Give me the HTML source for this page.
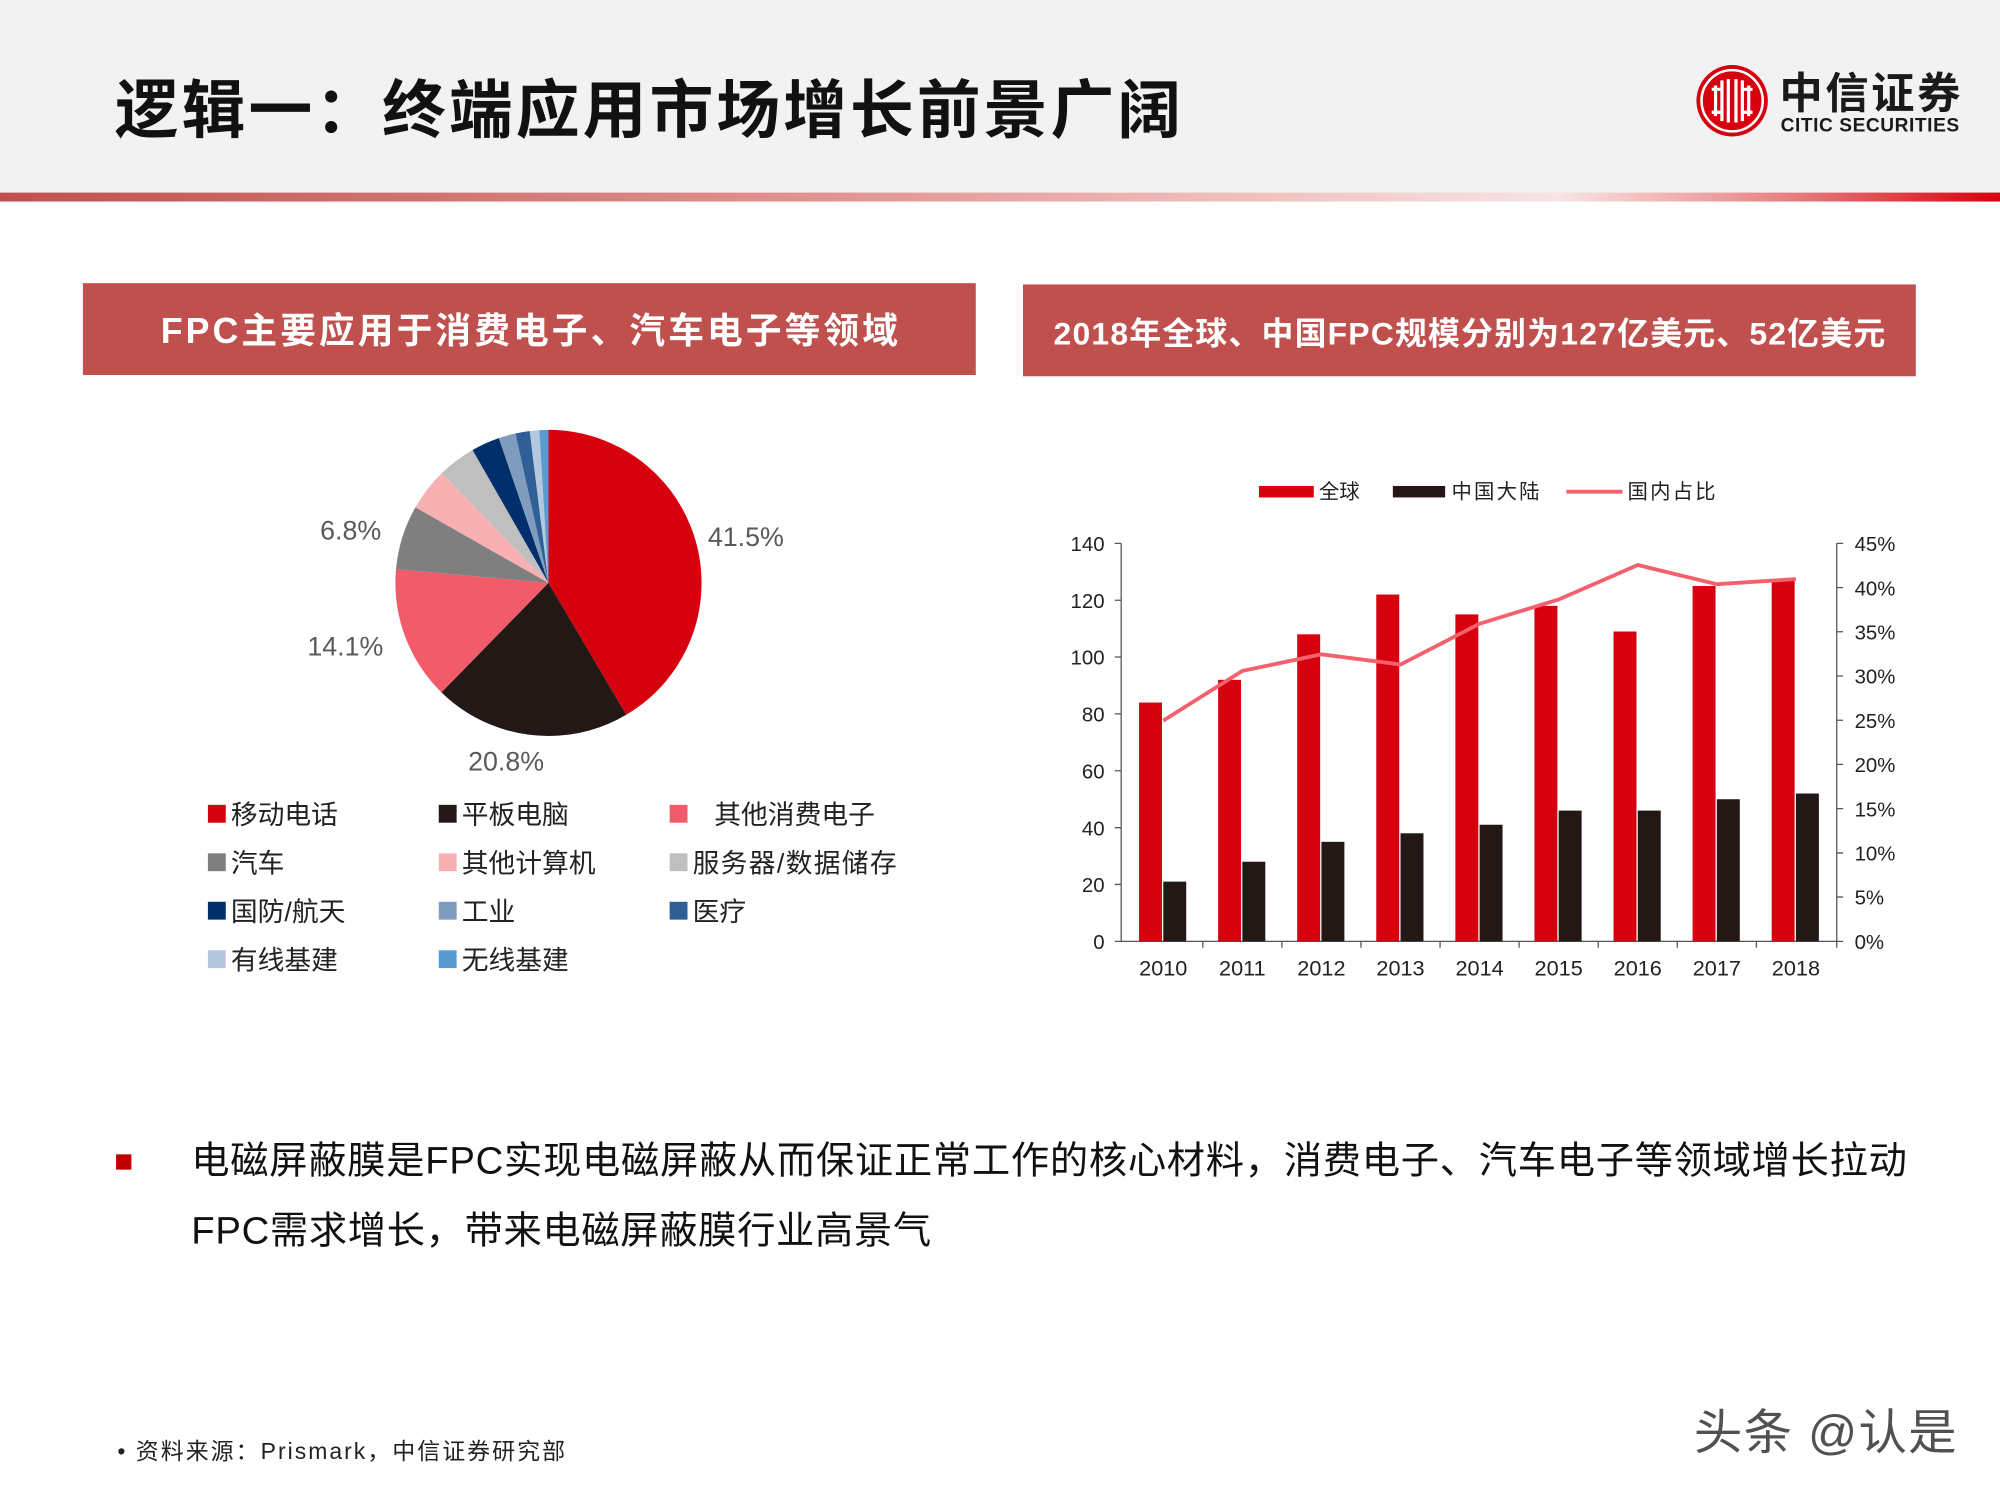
<!DOCTYPE html>
<html><head><meta charset="utf-8"><style>
html,body{margin:0;padding:0;background:#fff;}
svg{display:block;}
text{font-family:"Liberation Sans","Noto Sans CJK SC",sans-serif;}
</style></head><body>
<svg width="2000" height="1500" viewBox="0 0 1568 1176" xmlns="http://www.w3.org/2000/svg">
<defs>
<linearGradient id="hl" x1="0" x2="1" y1="0" y2="0">
<stop offset="0" stop-color="#c0504d"/>
<stop offset="0.45" stop-color="#e39a98"/>
<stop offset="0.78" stop-color="#f8e4e4"/>
<stop offset="0.9" stop-color="#e67a7c"/>
<stop offset="1" stop-color="#d7000f"/>
</linearGradient>
</defs>
<rect x="0" y="0" width="1568" height="152" fill="#f2f2f2"/>
<rect x="0" y="151" width="1568" height="7" fill="url(#hl)"/>
<text x="90" y="104" font-size="50" font-weight="bold" fill="#111" textLength="836">逻辑一：终端应用市场增长前景广阔</text>
<!-- logo -->
<circle cx="1358" cy="79" r="28" fill="#d7000f"/>
<circle cx="1358" cy="79" r="24" fill="none" stroke="#fff" stroke-width="2"/>
<g stroke="#fff" stroke-width="2.5" fill="none">
<path d="M1345 67 v24 M1350 63 v32 M1355 62 v34 M1361 62 v34 M1366 63 v32 M1371 67 v24"/>
<path d="M1350 70 h-8 M1366 70 h8 M1350 88 h-8 M1366 88 h8"/>
</g>
<text x="1395" y="85" font-size="34" font-weight="bold" fill="#1a1a1a" textLength="142" font-family="Noto Serif CJK SC, serif">中信证券</text>
<text x="1396" y="103" font-size="15" font-weight="bold" fill="#1a1a1a" textLength="140">CITIC SECURITIES</text>
<!-- banners -->
<rect x="65" y="222" width="700" height="72" fill="#c0504d"/>
<text x="415" y="269" font-size="28" font-weight="bold" fill="#fff" text-anchor="middle" textLength="578">FPC主要应用于消费电子、汽车电子等领域</text>
<rect x="802" y="223" width="700" height="72" fill="#c0504d"/>
<text x="1152" y="270" font-size="25" font-weight="bold" fill="#fff" text-anchor="middle" textLength="652">2018年全球、中国FPC规模分别为127亿美元、52亿美元</text>
<!-- pie -->
<g transform="translate(430 457) rotate(-90)" fill="none" stroke-width="120">
<circle r="60" stroke="#d7000f" stroke-dasharray="156.45 400" stroke-dashoffset="0"/>
<circle r="60" stroke="#231815" stroke-dasharray="78.41 400" stroke-dashoffset="-156.45"/>
<circle r="60" stroke="#f25b6a" stroke-dasharray="53.16 400" stroke-dashoffset="-234.87"/>
<circle r="60" stroke="#7f7f7f" stroke-dasharray="25.64 400" stroke-dashoffset="-288.02"/>
<circle r="60" stroke="#f9b0b3" stroke-dasharray="16.96 400" stroke-dashoffset="-313.66"/>
<circle r="60" stroke="#bfbfbf" stroke-dasharray="15.08 400" stroke-dashoffset="-330.63"/>
<circle r="60" stroke="#002f6c" stroke-dasharray="11.31 400" stroke-dashoffset="-345.71"/>
<circle r="60" stroke="#7f9cbf" stroke-dasharray="6.79 400" stroke-dashoffset="-357.02"/>
<circle r="60" stroke="#2f5f96" stroke-dasharray="5.65 400" stroke-dashoffset="-363.80"/>
<circle r="60" stroke="#b4c7dc" stroke-dasharray="3.77 400" stroke-dashoffset="-369.46"/>
<circle r="60" stroke="#5b9bd5" stroke-dasharray="3.77 400" stroke-dashoffset="-373.23"/>
</g>
<g font-size="21" fill="#595959">
<text x="555" y="428">41.5%</text>
<text x="251" y="423">6.8%</text>
<text x="241" y="514">14.1%</text>
<text x="367" y="604">20.8%</text>
</g>
<!-- pie legend -->
<g font-size="21" fill="#222">
<rect x="163" y="631" width="14" height="14" fill="#d7000f"/><text x="181" y="646">移动电话</text>
<rect x="344" y="631" width="14" height="14" fill="#231815"/><text x="362" y="646">平板电脑</text>
<rect x="525" y="631" width="14" height="14" fill="#f25b6a"/><text x="560" y="646">其他消费电子</text>
<rect x="163" y="669" width="14" height="14" fill="#7f7f7f"/><text x="181" y="684">汽车</text>
<rect x="344" y="669" width="14" height="14" fill="#f9b0b3"/><text x="362" y="684">其他计算机</text>
<rect x="525" y="669" width="14" height="14" fill="#bfbfbf"/><text x="543" y="684" textLength="160">服务器/数据储存</text>
<rect x="163" y="707" width="14" height="14" fill="#002f6c"/><text x="181" y="722">国防/航天</text>
<rect x="344" y="707" width="14" height="14" fill="#7f9cbf"/><text x="362" y="722">工业</text>
<rect x="525" y="707" width="14" height="14" fill="#2f5f96"/><text x="543" y="722">医疗</text>
<rect x="163" y="745" width="14" height="14" fill="#b4c7dc"/><text x="181" y="760">有线基建</text>
<rect x="344" y="745" width="14" height="14" fill="#5b9bd5"/><text x="362" y="760">无线基建</text>
</g>
<!-- bar chart legend -->
<g font-size="16" fill="#222">
<rect x="987" y="381" width="43" height="9" fill="#d7000f"/><text x="1034" y="391">全球</text>
<rect x="1092" y="381" width="41" height="9" fill="#231815"/><text x="1138" y="391" textLength="69">中国大陆</text>
<rect x="1228" y="384" width="44" height="3" fill="#f4606c"/><text x="1276" y="391" textLength="69">国内占比</text>
</g>
<!-- axes -->
<g stroke="#555" stroke-width="1" fill="none">
<path d="M879 426 V738 H1440 V426"/>
<path d="M874 426 h5 M874 470.6 h5 M874 515.1 h5 M874 559.7 h5 M874 604.3 h5 M874 648.9 h5 M874 693.4 h5 M874 738 h5"/>
<path d="M1440 426 h5 M1440 460.7 h5 M1440 495.3 h5 M1440 530 h5 M1440 564.7 h5 M1440 599.3 h5 M1440 634 h5 M1440 668.7 h5 M1440 703.3 h5 M1440 738 h5"/>
<path d="M943 738 v5 M1005 738 v5 M1067 738 v5 M1129 738 v5 M1191 738 v5 M1253 738 v5 M1315 738 v5 M1377 738 v5 M1440 738 v5"/>
</g>
<g font-size="16" fill="#222" text-anchor="end">
<text x="866" y="432">140</text><text x="866" y="476.6">120</text><text x="866" y="521.1">100</text><text x="866" y="565.7">80</text><text x="866" y="610.3">60</text><text x="866" y="654.9">40</text><text x="866" y="699.4">20</text><text x="866" y="744">0</text>
</g>
<g font-size="16" fill="#222">
<text x="1454" y="432">45%</text><text x="1454" y="466.7">40%</text><text x="1454" y="501.3">35%</text><text x="1454" y="536">30%</text><text x="1454" y="570.7">25%</text><text x="1454" y="605.3">20%</text><text x="1454" y="640">15%</text><text x="1454" y="674.7">10%</text><text x="1454" y="709.3">5%</text><text x="1454" y="744">0%</text>
</g>
<g font-size="17" fill="#222" text-anchor="middle">
<text x="912" y="765">2010</text><text x="974" y="765">2011</text><text x="1036" y="765">2012</text><text x="1098" y="765">2013</text><text x="1160" y="765">2014</text><text x="1222" y="765">2015</text><text x="1284" y="765">2016</text><text x="1346" y="765">2017</text><text x="1408" y="765">2018</text>
</g>
<g fill="#d7000f">
<rect x="893" y="550.8" width="18" height="187.2"/>
<rect x="955" y="533" width="18" height="205"/>
<rect x="1017" y="497.3" width="18" height="240.7"/>
<rect x="1079" y="466.1" width="18" height="271.9"/>
<rect x="1141" y="481.7" width="18" height="256.3"/>
<rect x="1203" y="475" width="18" height="263"/>
<rect x="1265" y="495.1" width="18" height="242.9"/>
<rect x="1327" y="459.4" width="18" height="278.6"/>
<rect x="1389" y="455" width="18" height="283"/>
</g>
<g fill="#231815">
<rect x="912" y="691.2" width="18" height="46.8"/>
<rect x="974" y="675.6" width="18" height="62.4"/>
<rect x="1036" y="660" width="18" height="78"/>
<rect x="1098" y="653.3" width="18" height="84.7"/>
<rect x="1160" y="646.6" width="18" height="91.4"/>
<rect x="1222" y="635.5" width="18" height="102.5"/>
<rect x="1284" y="635.5" width="18" height="102.5"/>
<rect x="1346" y="626.6" width="18" height="111.4"/>
<rect x="1408" y="622.1" width="18" height="115.9"/>
</g>
<polyline points="912,565 974,526 1036,513 1098,521 1160,489 1222,470 1284,443 1346,458 1408,454" fill="none" stroke="#f4606c" stroke-width="3"/>
<!-- bullet -->
<rect x="91" y="905" width="12" height="12" fill="#c00000"/>
<text x="150" y="920" font-size="30" fill="#111" textLength="1345">电磁屏蔽膜是FPC实现电磁屏蔽从而保证正常工作的核心材料，消费电子、汽车电子等领域增长拉动</text>
<text x="150" y="975" font-size="30" fill="#111" textLength="580">FPC需求增长，带来电磁屏蔽膜行业高景气</text>
<!-- source -->
<text x="92" y="1144" font-size="18" fill="#222" textLength="351">•  资料来源：Prismark，中信证券研究部</text>
<text x="1328" y="1136" font-size="38" fill="#333" opacity="0.85" textLength="206">头条 @认是</text>
</svg>
</body></html>
